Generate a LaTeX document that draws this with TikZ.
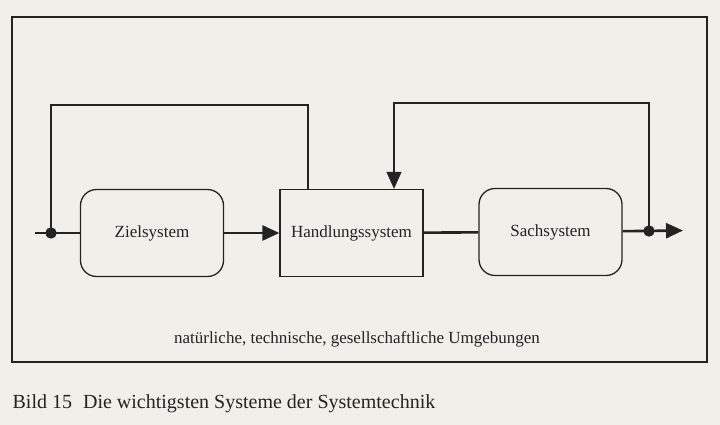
\documentclass[tikz,border=0pt]{standalone}
\usepackage{fontspec}
\setmainfont{Liberation Serif}
\usetikzlibrary{arrows.meta,positioning}
\definecolor{paper}{RGB}{241,239,234}
\definecolor{ink}{RGB}{35,35,35}
\tikzset{every picture/.style={line width=1.3pt,color=ink}}
\tikzstyle{circ}=[circle,fill=ink,draw=ink,inner sep=0pt,minimum size=10pt]
\tikzstyle{sys}=[draw,minimum width=143pt,minimum height=87pt,inner sep=0pt]

\begin{document}
\begin{tikzpicture}[x=1pt,y=-1pt,font=\fontsize{17}{20}\selectfont,>={Triangle[length=17pt,width=15pt]}]
\fill[paper] (0,0) rectangle (720,425);
\useasboundingbox (0,0) rectangle (720,425);
\draw[line width=1.8pt] (12,17) rectangle (707,362);
\node[sys,rounded corners=16pt] (Z) at (152,233) {Zielsystem};
\node[sys] (H) at (351.5,233) {Handlungssystem};
\node[sys,rounded corners=16pt] (S) at (550.5,232) {Sachsystem};
\coordinate (I) at (35,233);
\coordinate (O) at (683,230.5);
\coordinate (F1) at (308,105);
\coordinate (F2) at (394,103);
\node (U) [anchor=base] at (357,343) {natürliche, technische, gesellschaftliche Umgebungen};
\node (B) [anchor=base west,inner sep=0pt,font=\fontsize{20}{24}\selectfont] at (12,408) {Bild 15\hspace{0.55em}Die wichtigsten Systeme der Systemtechnik};
\path[line width=2.6pt]
(I) edge (Z)
(Z) edge[->] (H)
(H) edge (S)
(S) edge[->] (O);
\node[circ] (P) at (51,233) {};
\node[circ] (Q) at (649,231) {};
\draw (P.center) |- (F1) -- (F1 |- H.north);
\draw[->] (Q.center) |- (F2) -- (F2 |- H.north);
\end{tikzpicture}
\end{document}
